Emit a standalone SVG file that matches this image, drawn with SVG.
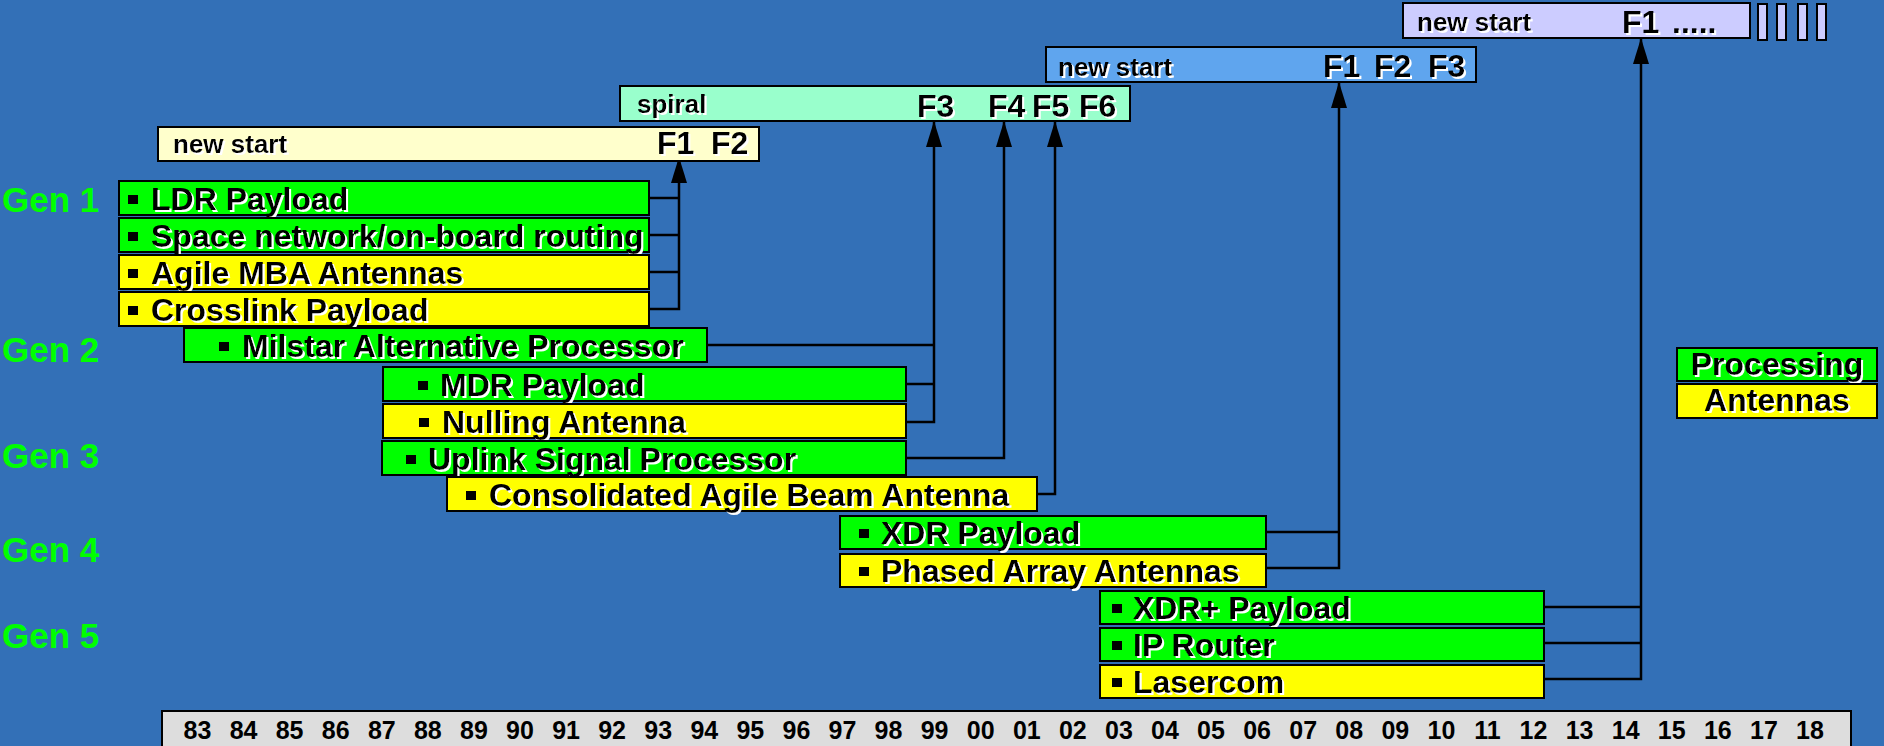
<svg xmlns="http://www.w3.org/2000/svg" width="1884" height="746" viewBox="0 0 1884 746">
<defs>
<filter id="emb" x="-5%" y="-20%" width="110%" height="150%">
<feFlood flood-color="#ffffff" result="w"/>
<feComposite in="w" in2="SourceAlpha" operator="in" result="ws"/>
<feOffset in="ws" dx="1.6" dy="1.6" result="off"/>
<feMerge><feMergeNode in="off"/><feMergeNode in="SourceGraphic"/></feMerge>
</filter>
<marker id="arr" markerUnits="userSpaceOnUse" markerWidth="26" markerHeight="18" viewBox="0 0 26 18" refX="26" refY="9" orient="auto">
<path d="M26,9 L0,1 L0,17 Z" fill="#000"/>
</marker>
<style>
.bg{fill:#3370B7}
.box{stroke:#000;stroke-width:2}
.g{fill:#00FF00}
.y{fill:#FFFF00}
.bul{fill:#000}
.it{font-family:"Liberation Sans",Arial,sans-serif;font-weight:bold;font-size:32px;fill:#000;filter:url(#emb)}
.ns{font-family:"Liberation Sans",Arial,sans-serif;font-weight:bold;font-size:26px;fill:#000;filter:url(#emb)}
.f{font-family:"Liberation Sans",Arial,sans-serif;font-weight:bold;font-size:32px;fill:#000;filter:url(#emb)}
.gen{font-family:"Liberation Sans",Arial,sans-serif;font-weight:bold;font-size:35px;fill:#00FF00}
.yr{font-family:"Liberation Sans",Arial,sans-serif;font-weight:bold;font-size:25px;fill:#000;text-anchor:middle}
.con{fill:none;stroke:#000;stroke-width:2.5}
</style>
</defs>
<rect class="bg" x="0" y="0" width="1884" height="746"/>

<g id="gen-labels">
<text class="gen" x="2" y="212">Gen 1</text>
<text class="gen" x="2" y="362">Gen 2</text>
<text class="gen" x="2" y="468">Gen 3</text>
<text class="gen" x="2" y="562">Gen 4</text>
<text class="gen" x="2" y="648">Gen 5</text>
</g>

<g id="connectors">
<path class="con" d="M649,198 H679 M649,235 H679 M649,272 H679"/>
<path class="con" d="M649,309 H679 V157" marker-end="url(#arr)"/>
<path class="con" d="M707,345 H934 M906,384 H934"/>
<path class="con" d="M906,422 H934 V121" marker-end="url(#arr)"/>
<path class="con" d="M906,458 H1004 V121" marker-end="url(#arr)"/>
<path class="con" d="M1037,494 H1055 V121" marker-end="url(#arr)"/>
<path class="con" d="M1266,532 H1339"/>
<path class="con" d="M1266,568 H1339 V82" marker-end="url(#arr)"/>
<path class="con" d="M1544,607 H1641 M1544,643 H1641"/>
<path class="con" d="M1544,679 H1641 V38" marker-end="url(#arr)"/>
</g>

<g id="phase-newstart-1">
<rect class="box" x="158" y="127" width="601" height="34" fill="#FFFFCC"/>
<text class="ns" x="173" y="153">new start</text>
<text class="f" x="657" y="154">F1</text>
<text class="f" x="711" y="154">F2</text>
</g>
<g id="phase-spiral">
<rect class="box" x="620" y="86" width="510" height="35" fill="#99FFCC"/>
<text class="ns" x="637" y="113">spiral</text>
<text class="f" x="917" y="117">F3</text>
<text class="f" x="988" y="117">F4</text>
<text class="f" x="1032" y="117">F5</text>
<text class="f" x="1079" y="117">F6</text>
</g>
<g id="phase-newstart-2">
<rect class="box" x="1046" y="47" width="430" height="35" fill="#5FA5EE"/>
<text class="ns" x="1058" y="76">new start</text>
<text class="f" x="1323" y="77">F1</text>
<text class="f" x="1374" y="77">F2</text>
<text class="f" x="1428" y="77">F3</text>
</g>
<g id="phase-newstart-3">
<rect class="box" x="1403" y="3" width="347" height="35" fill="#CCCCFF"/>
<text class="ns" x="1417" y="31">new start</text>
<text class="f" x="1622" y="33">F1</text>
<text class="f" x="1672" y="33">.....</text>
<rect class="box" x="1758" y="4" width="9" height="36" fill="#CCCCFF"/>
<rect class="box" x="1777" y="4" width="9" height="36" fill="#CCCCFF"/>
<rect class="box" x="1798" y="4" width="9" height="36" fill="#CCCCFF"/>
<rect class="box" x="1817" y="4" width="9" height="36" fill="#CCCCFF"/>
</g>

<g id="ldr-payload">
<rect class="box g" x="119" y="181" width="530" height="34"/>
<rect class="bul" x="128" y="195" width="10" height="9"/>
<text class="it" x="151" y="210">LDR Payload</text>
</g>
<g id="space-network">
<rect class="box g" x="119" y="218" width="530" height="34"/>
<rect class="bul" x="128" y="232" width="10" height="9"/>
<text class="it" x="151" y="247">Space network/on-board routing</text>
</g>
<g id="agile-mba">
<rect class="box y" x="119" y="255" width="530" height="34"/>
<rect class="bul" x="128" y="269" width="10" height="9"/>
<text class="it" x="151" y="284">Agile MBA Antennas</text>
</g>
<g id="crosslink">
<rect class="box y" x="119" y="292" width="530" height="34"/>
<rect class="bul" x="128" y="306" width="10" height="9"/>
<text class="it" x="151" y="321">Crosslink Payload</text>
</g>
<g id="milstar">
<rect class="box g" x="184" y="328" width="523" height="34"/>
<rect class="bul" x="219" y="342" width="10" height="9"/>
<text class="it" x="242" y="357">Milstar Alternative Processor</text>
</g>
<g id="mdr">
<rect class="box g" x="383" y="367" width="523" height="34"/>
<rect class="bul" x="418" y="381" width="10" height="9"/>
<text class="it" x="440" y="396">MDR Payload</text>
</g>
<g id="nulling">
<rect class="box y" x="383" y="404" width="523" height="34"/>
<rect class="bul" x="419" y="418" width="10" height="9"/>
<text class="it" x="442" y="433">Nulling Antenna</text>
</g>
<g id="uplink">
<rect class="box g" x="382" y="441" width="524" height="34"/>
<rect class="bul" x="406" y="455" width="10" height="9"/>
<text class="it" x="428" y="470">Uplink Signal Processor</text>
</g>
<g id="consolidated">
<rect class="box y" x="447" y="477" width="590" height="34"/>
<rect class="bul" x="466" y="491" width="10" height="9"/>
<text class="it" x="489" y="506">Consolidated Agile Beam Antenna</text>
</g>
<g id="xdr">
<rect class="box g" x="840" y="516" width="426" height="33"/>
<rect class="bul" x="859" y="529" width="10" height="9"/>
<text class="it" x="881" y="544">XDR Payload</text>
</g>
<g id="phased">
<rect class="box y" x="840" y="554" width="426" height="33"/>
<rect class="bul" x="859" y="567" width="10" height="9"/>
<text class="it" x="881" y="582">Phased Array Antennas</text>
</g>
<g id="xdr-plus">
<rect class="box g" x="1100" y="591" width="444" height="33"/>
<rect class="bul" x="1112" y="604" width="10" height="9"/>
<text class="it" x="1133" y="619">XDR+ Payload</text>
</g>
<g id="ip-router">
<rect class="box g" x="1100" y="628" width="444" height="33"/>
<rect class="bul" x="1112" y="641" width="10" height="9"/>
<text class="it" x="1133" y="656">IP Router</text>
</g>
<g id="lasercom">
<rect class="box y" x="1100" y="665" width="444" height="33"/>
<rect class="bul" x="1112" y="678" width="10" height="9"/>
<text class="it" x="1133" y="693">Lasercom</text>
</g>

<g id="legend">
<rect class="box g" x="1677" y="348" width="200" height="33"/>
<text class="it" x="1777" y="375" text-anchor="middle">Processing</text>
<rect class="box y" x="1677" y="384" width="200" height="34"/>
<text class="it" x="1777" y="411" text-anchor="middle">Antennas</text>
</g>

<g id="timeline">
<rect x="162" y="711" width="1689" height="40" fill="#DDDDDD" stroke="#000" stroke-width="2"/>
<text class="yr" x="197.5" y="739">83</text>
<text class="yr" x="243.6" y="739">84</text>
<text class="yr" x="289.6" y="739">85</text>
<text class="yr" x="335.7" y="739">86</text>
<text class="yr" x="381.8" y="739">87</text>
<text class="yr" x="427.8" y="739">88</text>
<text class="yr" x="473.9" y="739">89</text>
<text class="yr" x="520.0" y="739">90</text>
<text class="yr" x="566.1" y="739">91</text>
<text class="yr" x="612.1" y="739">92</text>
<text class="yr" x="658.2" y="739">93</text>
<text class="yr" x="704.3" y="739">94</text>
<text class="yr" x="750.3" y="739">95</text>
<text class="yr" x="796.4" y="739">96</text>
<text class="yr" x="842.5" y="739">97</text>
<text class="yr" x="888.5" y="739">98</text>
<text class="yr" x="934.6" y="739">99</text>
<text class="yr" x="980.7" y="739">00</text>
<text class="yr" x="1026.8" y="739">01</text>
<text class="yr" x="1072.8" y="739">02</text>
<text class="yr" x="1118.9" y="739">03</text>
<text class="yr" x="1165.0" y="739">04</text>
<text class="yr" x="1211.0" y="739">05</text>
<text class="yr" x="1257.1" y="739">06</text>
<text class="yr" x="1303.2" y="739">07</text>
<text class="yr" x="1349.2" y="739">08</text>
<text class="yr" x="1395.3" y="739">09</text>
<text class="yr" x="1441.4" y="739">10</text>
<text class="yr" x="1487.5" y="739">11</text>
<text class="yr" x="1533.5" y="739">12</text>
<text class="yr" x="1579.6" y="739">13</text>
<text class="yr" x="1625.7" y="739">14</text>
<text class="yr" x="1671.7" y="739">15</text>
<text class="yr" x="1717.8" y="739">16</text>
<text class="yr" x="1763.9" y="739">17</text>
<text class="yr" x="1810.0" y="739">18</text>
</g>
</svg>
